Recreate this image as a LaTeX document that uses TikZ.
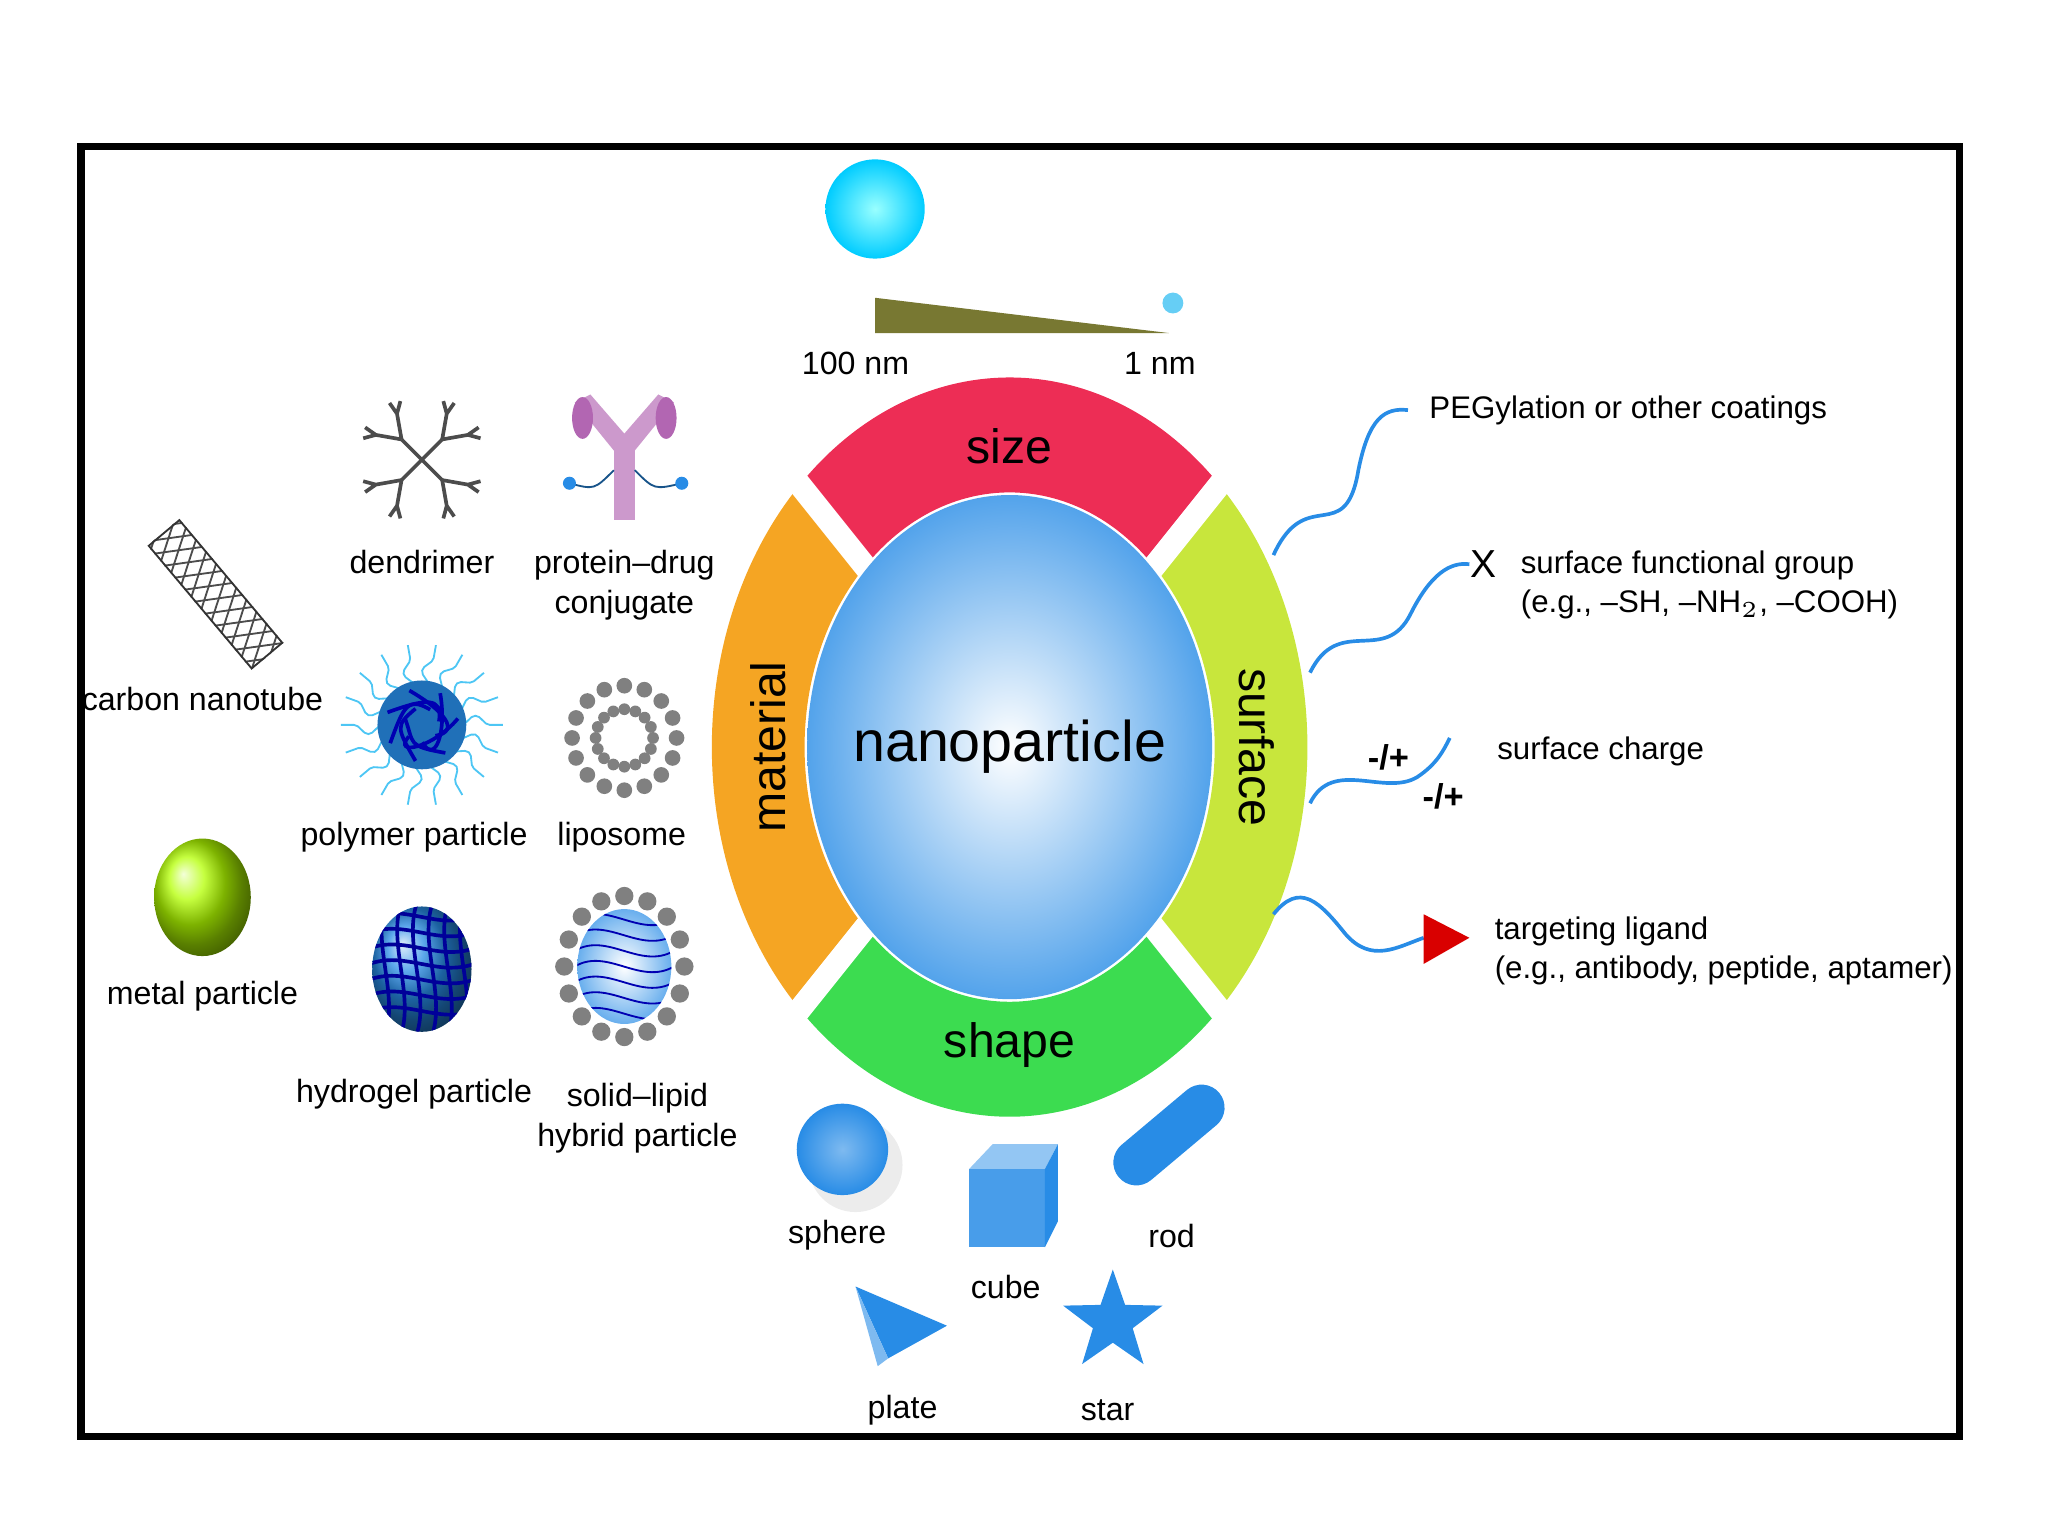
\documentclass[tikz,border=0pt]{standalone}
\usepackage{fontspec}
\setmainfont{Liberation Sans}
\usetikzlibrary{arrows.meta,positioning,shapes,calc,decorations.pathmorphing}

\definecolor{sizered}{RGB}{237,45,85}
\definecolor{matorange}{RGB}{245,165,35}
\definecolor{surfgreen}{RGB}{200,230,60}
\definecolor{shapegreen}{RGB}{60,220,80}
\definecolor{npblue}{RGB}{40,140,230}
\definecolor{wedge}{RGB}{120,120,50}

\tikzset{
  lbl/.style={font=\fontsize{7}{8.6}\selectfont, align=center},
  rlbl/.style={font=\fontsize{6.8}{8.6}\selectfont, anchor=west, align=left},
  big/.style={font=\fontsize{10.5}{12}\selectfont},
  wire/.style={thick, npblue},
  shadow/.style={fill=black!15, opacity=0.5}
}

\begin{document}
\begin{tikzpicture}[x=0.01cm, y=-0.01cm]
\useasboundingbox (0,0) rectangle (1568,1176);
\draw[line width=1.6pt] (62,112) rectangle (1500,1100);

% Ring segments (angles point downward since y is flipped)
\foreach \a/\c in {270/sizered, 180/matorange, 0/surfgreen, 90/shapegreen}{
  \fill[\c] (773,572) ++(\a-45:228 and 283) arc[start angle=\a-45, end angle=\a+45, x radius=228, y radius=283]
    -- ($(773,572)+(\a+45:157 and 195)$) arc[start angle=\a+45, end angle=\a-45, x radius=157, y radius=195] -- cycle;
}
\foreach \a in {45,135,225,315}
  \draw[white, line width=5pt] (773,572) -- ++(\a:240 and 300);
\shade[inner color=white, outer color=npblue!80] (773,572) ellipse[x radius=155, y radius=193];
\node[font=\fontsize{12.5}{14}\selectfont] (np) at (773,572) {nanoparticle};
\node[big] (size) at (773,342) {size};
\node[big] (shape) at (773,800) {shape};
\node[big, rotate=90] (material) at (588,572) {material};
\node[big, rotate=-90] (surface) at (962,572) {surface};

% Size scale
\shade[inner color=white!60!cyan, outer color=cyan!80!blue] (670,160) circle (38);
\fill[wedge] (670,228) -- (895,255) -- (670,255) -- cycle;
\fill[cyan!60] (898,232) circle (8);
\node[lbl] (big nm) at (655,278) {100 nm};
\node[lbl] (small nm) at (888,278) {1 nm};

% Carbon nanotube
\begin{scope}[shift={(165,455)}, rotate=-50]
  \clip (-62,-16) rectangle (62,16);
  \foreach \i in {-90,-78,...,90}{
    \draw[black!70, thin] (\i,-16) -- (\i+20,16);
    \draw[black!70, thin] (\i,16) -- (\i+20,-16);
  }
  \draw[black!80, thick] (-62,-16) rectangle (62,16);
\end{scope}
\node[lbl] (cnt) at (155,535) {carbon nanotube};

% Dendrimer
\foreach \a in {45,135,225,315}{
  \draw[black!70, thick] (323,352) -- ++(\a:22) coordinate (d\a);
  \foreach \b in {-35,35}{
    \draw[black!70, thick] (d\a) -- ++(\a+\b:20) coordinate (e)
      (e) -- ++(\a+\b-25:10) (e) -- ++(\a+\b+25:10);
  }
}
\node[lbl] (dend) at (323,430) {dendrimer};

% Protein-drug conjugate
\fill[violet!40] (470,340) rectangle (486,398);
\fill[violet!40] (470,345) -- (440,308) -- (452,302) -- (478,332) -- (504,302) -- (516,308) -- (486,345) -- cycle;
\fill[violet!60] (446,320) ellipse (8 and 16);
\fill[violet!60] (510,320) ellipse (8 and 16);
\draw[npblue!60!black] (470,360) .. controls (455,375) .. (436,370);
\draw[npblue!60!black] (486,360) .. controls (501,375) .. (522,370);
\fill[npblue] (436,370) circle (5) (522,370) circle (5);
\node[lbl] (pdc) at (478,448) {protein--drug\\conjugate};

% Polymer particle
\foreach \a in {0,20,...,340}
  \draw[cyan!70, decorate, decoration={snake, amplitude=2, segment length=10}] (323,555) ++(\a:30) -- ++(\a:32);
\fill[npblue!80!black] (323,555) circle (34);
\foreach \i in {1,...,7}
  \draw[blue!70!black, thick] (323,555) ++(\i*50:28) .. controls ++(\i*50+140:30) and ++(\i*70:20) .. ++(\i*50+170:40);
\node[lbl] (poly) at (317,641) {polymer particle};

% Liposome
\foreach \a in {0,22.5,...,337.5}{
  \fill[black!50] (478,565) ++(\a:40) circle (6);
  \fill[black!50] (478,565) ++(\a:22) circle (4.5);
}
\node[lbl] (lipo) at (476,641) {liposome};

% Metal particle
\shade[ball color=yellow!70!green] (155,687) ellipse (37 and 45);
\node[lbl] (metal) at (155,763) {metal particle};

% Hydrogel particle
\shade[ball color=npblue] (323,742) ellipse (38 and 48);
\begin{scope}
  \clip (323,742) ellipse (38 and 48);
  \foreach \i in {-40,-28,...,40}{
    \draw[blue!60!black, thick] (283,742+\i) .. controls (310,732+\i) and (335,752+\i) .. (363,742+\i);
    \draw[blue!60!black, thick] (323+\i,692) .. controls (313+\i,722) and (333+\i,762) .. (323+\i,792);
  }
\end{scope}
\node[lbl] (hydro) at (317,838) {hydrogel particle};

% Solid-lipid hybrid particle
\foreach \a in {0,22.5,...,337.5}
  \fill[black!50] (478,740) ++(\a:46 and 54) circle (7);
\shade[inner color=white, outer color=npblue!70] (478,740) ellipse (36 and 44);
\begin{scope}
  \clip (478,740) ellipse (36 and 44);
  \foreach \i in {-36,-24,...,36}
    \draw[blue!70!black] (440,740+\i) .. controls (465,725+\i) and (490,755+\i) .. (516,740+\i);
\end{scope}
\node[lbl] (slh) at (488,856) {solid--lipid\\hybrid particle};

% Surface features
\coordinate (peg0) at (975,425);
\coordinate (peg1) at (1078,314);
\draw[wire] (peg0) .. controls (1000,370) and (1030,420) .. (1040,360) .. controls (1048,320) and (1060,312) .. (peg1);
\node[rlbl] (peg) at (1082,314) {PEGylation or other coatings};

\coordinate (fg0) at (1003,515);
\coordinate (fg1) at (1125,432);
\draw[wire] (fg0) .. controls (1025,470) and (1060,510) .. (1080,470) .. controls (1095,440) and (1110,430) .. (fg1);
\node[font=\fontsize{8.5}{10}\selectfont] (x) at (1136,432) {X};
\node[rlbl] (fg) at (1152,448) {surface functional group\\(e.g., –SH, –NH$_2$, –COOH)};

\coordinate (ch0) at (1003,615);
\coordinate (ch1) at (1110,565);
\draw[wire] (ch0) .. controls (1020,580) and (1060,610) .. (1085,595) .. controls (1100,585) and (1105,575) .. (ch1);
\node[font=\fontsize{7.5}{9}\selectfont\bfseries] (c1) at (1063,580) {-/+};
\node[font=\fontsize{7.5}{9}\selectfont\bfseries] (c2) at (1105,610) {-/+};
\node[rlbl] (charge) at (1134,575) {surface charge};

\coordinate (tl0) at (975,700);
\coordinate (tl1) at (1090,718);
\draw[wire] (tl0) .. controls (995,675) and (1010,690) .. (1030,715) .. controls (1050,738) and (1070,725) .. (tl1);
\fill[red!85!black] (1090,700) -- (1125,718) -- (1090,738) -- cycle;
\node[rlbl] (target) at (1132,728) {targeting ligand\\(e.g., antibody, peptide, aptamer)};

% Shapes
\fill[shadow] (655,892) circle (36);
\shade[inner color=npblue!60, outer color=npblue] (645,880) circle (35);
\node[lbl] (sphere) at (641,946) {sphere};
\fill[npblue!85] (742,895) rectangle (800,955);
\fill[npblue!50] (742,895) -- (760,876) -- (810,876) -- (800,895) -- cycle;
\fill[npblue] (800,895) -- (810,876) -- (810,935) -- (800,955) -- cycle;
\node[lbl] (cube) at (770,985) {cube};
\draw[npblue, line width=10pt, line cap=round] (870,890) -- (920,848);
\node[lbl] (rod) at (897,946) {rod};
\fill[npblue] (655,985) -- (725,1015) -- (680,1040) -- cycle;
\fill[npblue!60] (655,985) -- (680,1040) -- (672,1046) -- cycle;
\node[lbl] (plate) at (691,1080) {plate};
\fill[npblue] \foreach \k [evaluate=\k as \ang using 90+\k*36, evaluate=\k as \rr using {mod(\k,2)==0 ? 40 : 16}] in {0,...,9}{ \ifnum\k=0 (852,1012)++(\ang:-\rr)\else -- ($(852,1012)+(\ang:-\rr)$)\fi } -- cycle;
\node[lbl] (star) at (848,1080) {star};
\end{tikzpicture}
\end{document}
